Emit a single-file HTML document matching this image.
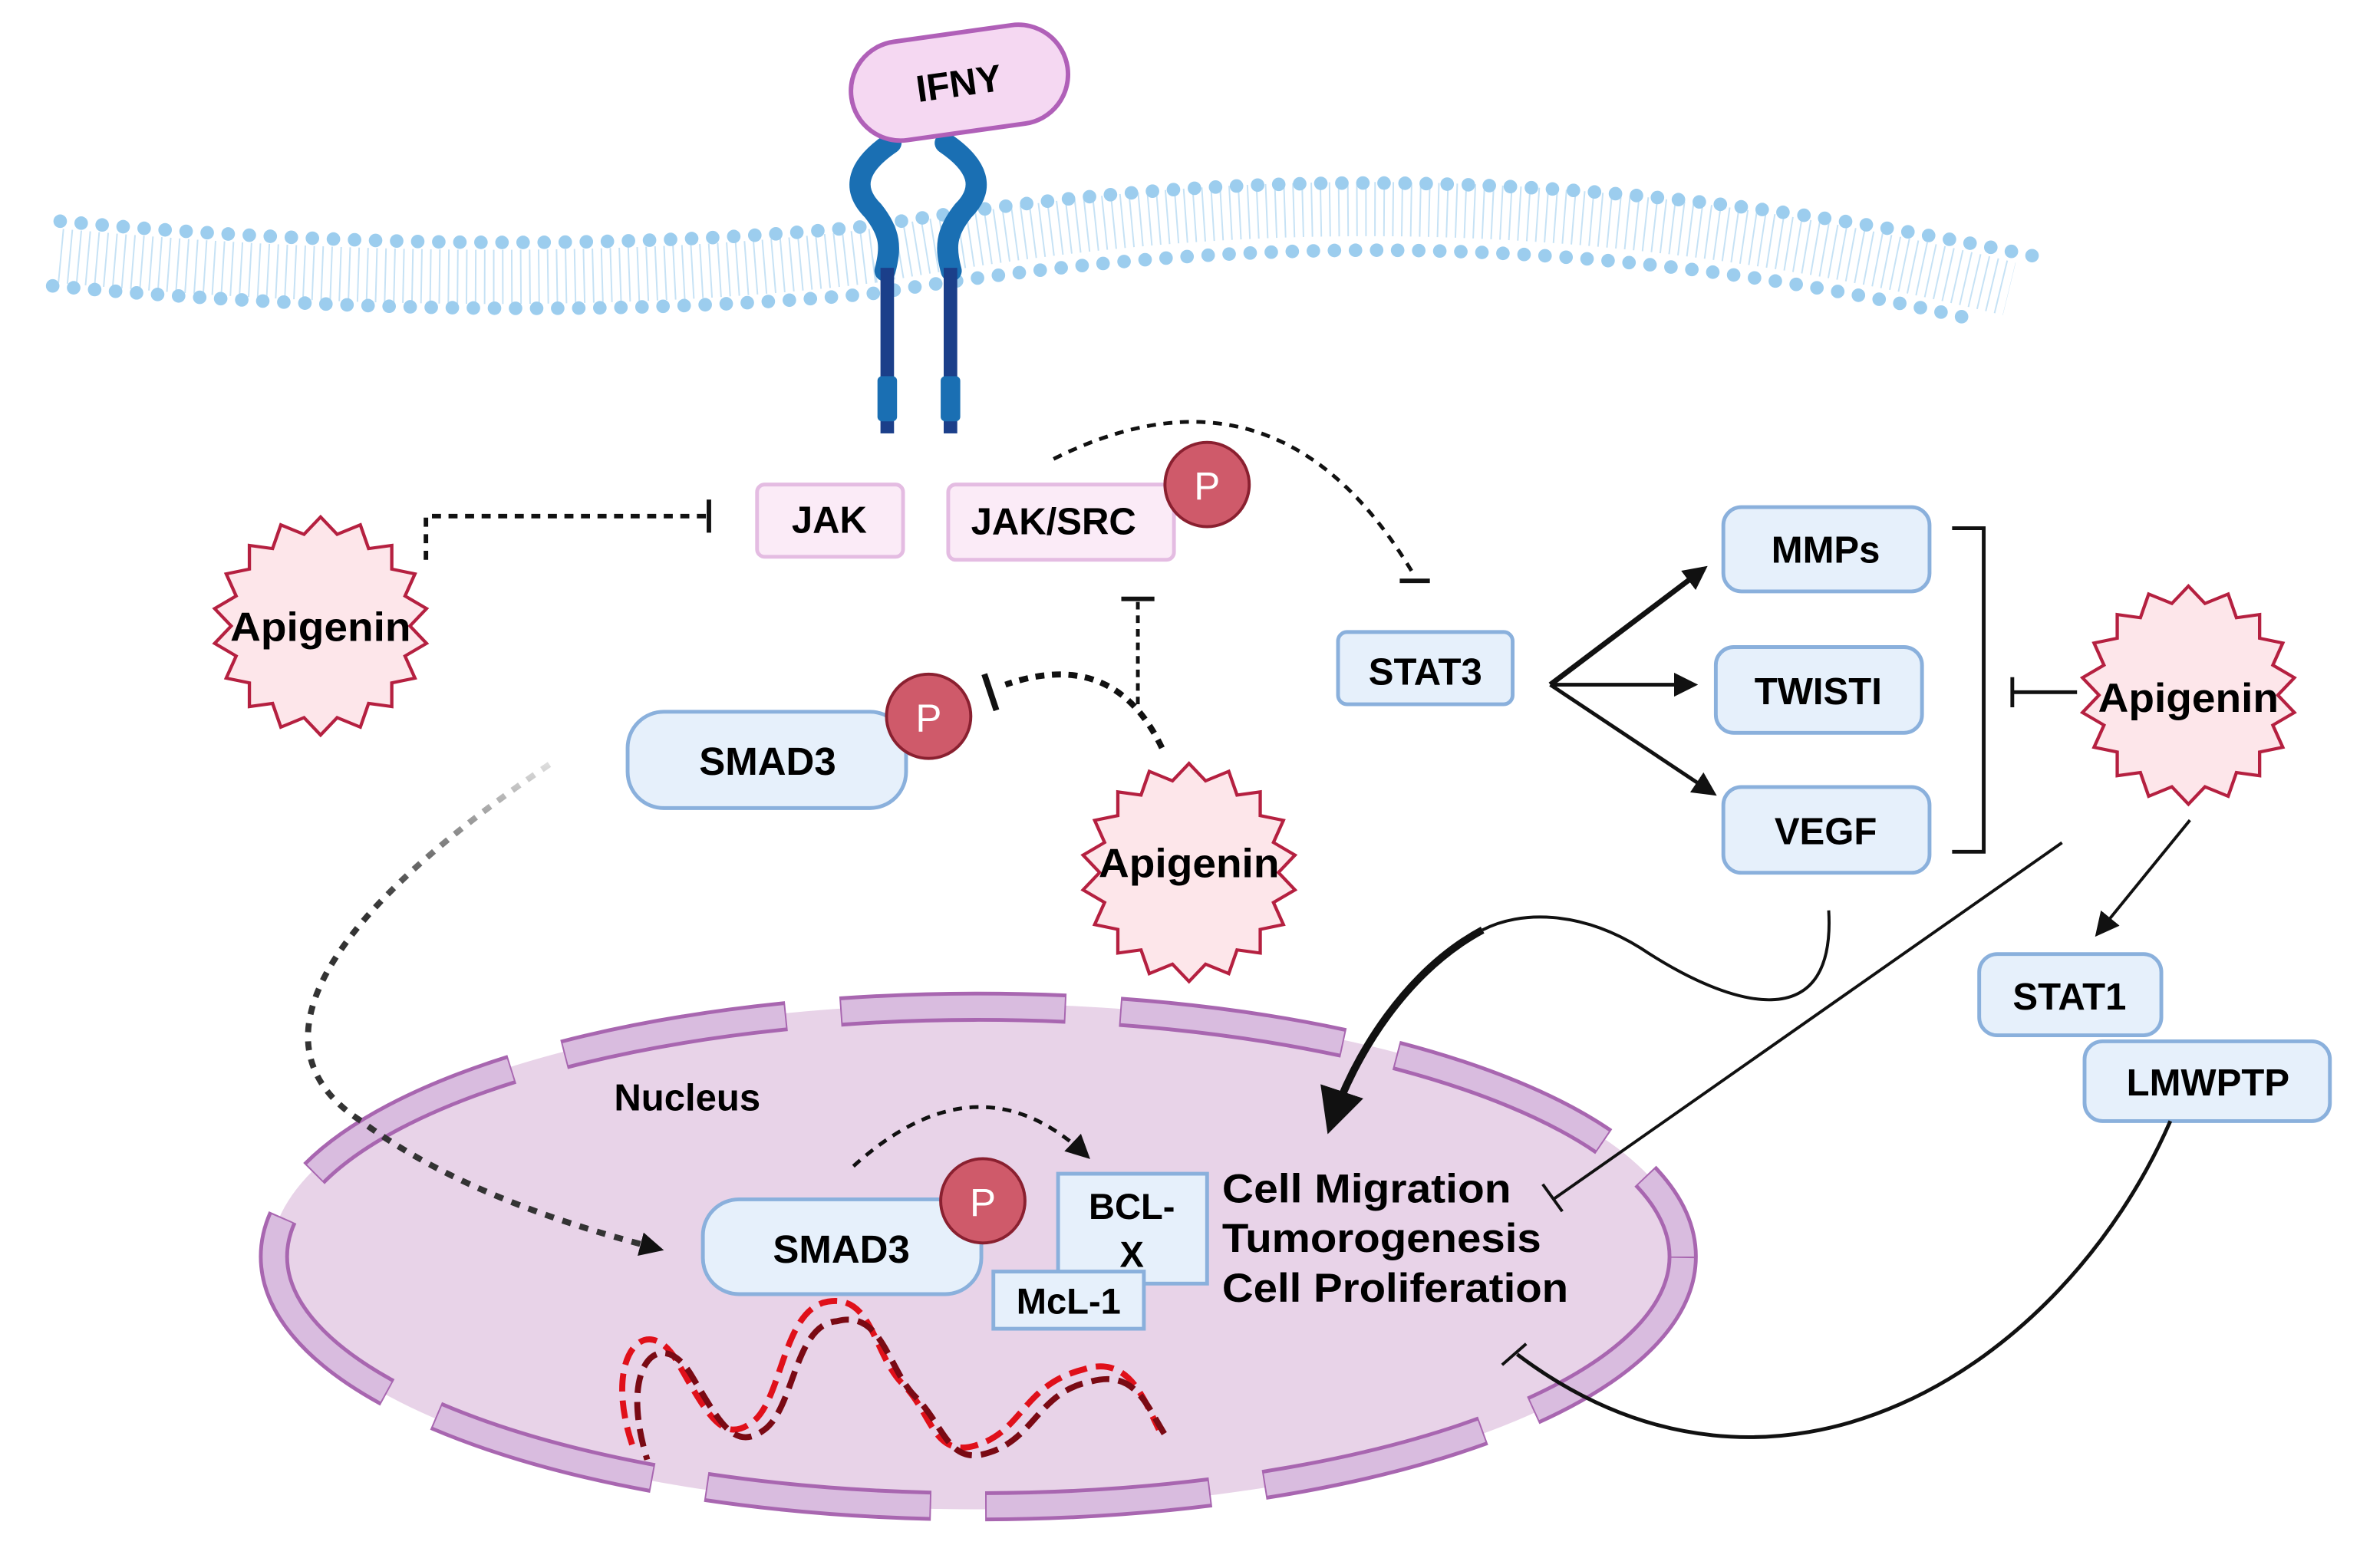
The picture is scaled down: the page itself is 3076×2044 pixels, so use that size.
<!DOCTYPE html>
<html><head><meta charset="utf-8"><style>html,body{margin:0;padding:0;background:#fff}svg{display:block}</style></head><body>
<svg width="3076" height="2044" viewBox="0 0 1568 1042" preserveAspectRatio="none" xmlns="http://www.w3.org/2000/svg" font-family="Liberation Sans, sans-serif" font-weight="bold">
<defs>
<marker id="ah" viewBox="0 0 10 10" refX="8" refY="5" markerWidth="16" markerHeight="16" markerUnits="userSpaceOnUse" orient="auto"><path d="M0,0L10,5L0,10z" fill="#111"/></marker>
<marker id="ahs" viewBox="0 0 10 10" refX="8" refY="5" markerWidth="30" markerHeight="30" markerUnits="userSpaceOnUse" orient="auto"><path d="M0,0L10,5L0,10z" fill="#111"/></marker>
<linearGradient id="gd" x1="0" y1="0" x2="0" y2="1"><stop offset="0" stop-color="#ddd"/><stop offset="0.3" stop-color="#333"/></linearGradient>
</defs>
<!-- membrane -->
<path d="M40,170 C200,185 400,192 580,170 C750,140 1000,110 1335,192" fill="none" stroke="#c6e2f5" stroke-width="36" stroke-dasharray="1 5"/>
<path d="M40,147 C200,162 400,168 580,150 C750,122 1000,95 1360,172" fill="none" stroke="#9ccdee" stroke-width="9" stroke-linecap="round" stroke-dasharray="0 14"/>
<path d="M35,190 C200,205 400,212 580,195 C750,168 1000,140 1310,212" fill="none" stroke="#9ccdee" stroke-width="9" stroke-linecap="round" stroke-dasharray="0 14"/>
<!-- receptor -->
<path d="M592,95 C570,110 565,125 580,140 C592,155 592,165 588,180" fill="none" stroke="#1a6fb3" stroke-width="14" stroke-linecap="round"/>
<path d="M628,95 C650,110 655,125 640,140 C628,155 628,165 632,180" fill="none" stroke="#1a6fb3" stroke-width="14" stroke-linecap="round"/>
<rect x="585" y="178" width="9" height="110" fill="#1b3f8a"/><rect x="627" y="178" width="9" height="110" fill="#1b3f8a"/>
<rect x="583" y="250" width="13" height="30" rx="3" fill="#1a6fb3"/><rect x="625" y="250" width="13" height="30" rx="3" fill="#1a6fb3"/>
<g transform="rotate(-8 637 55)"><rect x="565" y="22" width="145" height="66" rx="33" fill="#f5d8f2" stroke="#b060b8" stroke-width="3"/><text x="637" y="64" font-size="25" text-anchor="middle">IFNY</text></g>
<!-- nucleus -->
<ellipse cx="650" cy="835" rx="470" ry="168" fill="#e8d3e8"/>
<ellipse cx="650" cy="835" rx="468" ry="166" fill="none" stroke="#a866b0" stroke-width="20" stroke-dasharray="150 36"/>
<ellipse cx="650" cy="835" rx="468" ry="166" fill="none" stroke="#d9bcdf" stroke-width="15" stroke-dasharray="148 38" stroke-dashoffset="-1"/>
<text x="408" y="738" font-size="25">Nucleus</text>
<!-- DNA -->
<path d="M420,960 C400,900 430,870 450,905 C470,940 480,960 500,945 C520,930 520,870 550,865 C580,860 580,900 600,920 C620,940 620,970 650,960 C680,950 680,920 720,910 C750,900 760,930 770,950" fill="none" stroke="#e0101a" stroke-width="4" stroke-dasharray="12 6"/>
<path d="M430,970 C410,905 440,880 460,915 C478,945 488,965 508,950 C528,935 528,880 556,878 C586,870 590,910 608,928 C628,948 630,975 658,965 C688,955 690,925 725,918 C755,910 762,935 775,955" fill="none" stroke="#7a0a14" stroke-width="4" stroke-dasharray="12 6" stroke-dashoffset="9"/>
<!-- nucleus items -->
<rect x="703" y="780" width="99" height="73" fill="#e6f0fb" stroke="#8ab0dc" stroke-width="2.5"/>
<text x="752" y="810" font-size="24" text-anchor="middle">BCL-</text><text x="752" y="842" font-size="24" text-anchor="middle">X</text>
<rect x="660" y="845" width="100" height="38" fill="#e6f0fb" stroke="#8ab0dc" stroke-width="2.5"/>
<text x="710" y="873" font-size="24" text-anchor="middle">McL-1</text>
<rect x="467" y="797" width="185" height="63" rx="24" fill="#e6f0fb" stroke="#8ab0dc" stroke-width="2.5"/>
<text x="559" y="839" font-size="26" text-anchor="middle">SMAD3</text>
<circle cx="653" cy="798" r="28" fill="#cf5a6a" stroke="#8a2030" stroke-width="2"/><text x="653" y="808" font-size="26" font-weight="normal" fill="#fff" text-anchor="middle">P</text>
<text x="812" y="799" font-size="27" textLength="192" lengthAdjust="spacingAndGlyphs">Cell Migration</text>
<text x="812" y="832" font-size="27" textLength="212" lengthAdjust="spacingAndGlyphs">Tumorogenesis</text>
<text x="812" y="865" font-size="27" textLength="230" lengthAdjust="spacingAndGlyphs">Cell Proliferation</text>
<!-- top boxes -->
<rect x="503" y="322" width="97" height="48" rx="5" fill="#fbebf7" stroke="#e4bce2" stroke-width="2.5"/><text x="551" y="354" font-size="25" text-anchor="middle">JAK</text>
<rect x="630" y="322" width="150" height="50" rx="5" fill="#fbebf7" stroke="#e4bce2" stroke-width="2.5"/><text x="700" y="355" font-size="25" text-anchor="middle">JAK/SRC</text>
<circle cx="802" cy="322" r="28" fill="#cf5a6a" stroke="#8a2030" stroke-width="2"/><text x="802" y="332" font-size="26" font-weight="normal" fill="#fff" text-anchor="middle">P</text>
<rect x="417" y="473" width="185" height="64" rx="24" fill="#e6f0fb" stroke="#8ab0dc" stroke-width="2.5"/><text x="510" y="515" font-size="26" text-anchor="middle">SMAD3</text>
<circle cx="617" cy="476" r="28" fill="#cf5a6a" stroke="#8a2030" stroke-width="2"/><text x="617" y="486" font-size="26" font-weight="normal" fill="#fff" text-anchor="middle">P</text>
<rect x="889" y="420" width="116" height="48" rx="6" fill="#e6f0fb" stroke="#8ab0dc" stroke-width="2.5"/><text x="947" y="455" font-size="25" text-anchor="middle">STAT3</text>
<rect x="1145" y="337" width="137" height="56" rx="12" fill="#e6f0fb" stroke="#8ab0dc" stroke-width="2.5"/><text x="1213" y="374" font-size="25" text-anchor="middle">MMPs</text>
<rect x="1140" y="430" width="137" height="57" rx="12" fill="#e6f0fb" stroke="#8ab0dc" stroke-width="2.5"/><text x="1208" y="468" font-size="25" text-anchor="middle">TWISTI</text>
<rect x="1145" y="523" width="137" height="57" rx="12" fill="#e6f0fb" stroke="#8ab0dc" stroke-width="2.5"/><text x="1213" y="561" font-size="25" text-anchor="middle">VEGF</text>
<rect x="1315" y="634" width="121" height="54" rx="12" fill="#e6f0fb" stroke="#8ab0dc" stroke-width="2.5"/><text x="1375" y="671" font-size="25" text-anchor="middle">STAT1</text>
<rect x="1385" y="692" width="163" height="53" rx="12" fill="#e6f0fb" stroke="#8ab0dc" stroke-width="2.5"/><text x="1467" y="728" font-size="25" text-anchor="middle">LMWPTP</text>
<!-- apigenin stars -->
<g fill="#fde6ea" stroke="#b52040" stroke-width="2">
<g transform="translate(213,416) scale(1.1,1.05) translate(-213,-415)"><polygon points="213,346 223,357 237,351 242,366 256,364 256,379 270,382 264,396 277,404 267,415 277,426 264,434 270,448 256,451 256,466 242,464 237,479 223,473 213,484 203,473 189,479 184,464 170,466 170,451 156,448 162,434 149,426 159,415 149,404 162,396 156,382 170,379 170,364 184,366 189,351 203,357"/></g>
<g transform="translate(577,0) translate(213,416) scale(1.1,1.05) translate(-213,-416) translate(0,157)"><polygon points="213,346 223,357 237,351 242,366 256,364 256,379 270,382 264,396 277,404 267,415 277,426 264,434 270,448 256,451 256,466 242,464 237,479 223,473 213,484 203,473 189,479 184,464 170,466 170,451 156,448 162,434 149,426 159,415 149,404 162,396 156,382 170,379 170,364 184,366 189,351 203,357"/></g>
<g transform="translate(1241,47) translate(213,416) scale(1.1,1.05) translate(-213,-416)"><polygon points="213,346 223,357 237,351 242,366 256,364 256,379 270,382 264,396 277,404 267,415 277,426 264,434 270,448 256,451 256,466 242,464 237,479 223,473 213,484 203,473 189,479 184,464 170,466 170,451 156,448 162,434 149,426 159,415 149,404 162,396 156,382 170,379 170,364 184,366 189,351 203,357"/></g>
</g>
<text x="213" y="426" font-size="27" text-anchor="middle" textLength="120" lengthAdjust="spacingAndGlyphs">Apigenin</text>
<text x="790" y="583" font-size="27" text-anchor="middle" textLength="120" lengthAdjust="spacingAndGlyphs">Apigenin</text>
<text x="1454" y="473" font-size="27" text-anchor="middle" textLength="120" lengthAdjust="spacingAndGlyphs">Apigenin</text>
<!-- connectors -->
<g fill="none" stroke="#111" stroke-width="3">
<path d="M283,372 L283,343 L470,343" stroke-dasharray="6 5"/><path d="M471,332 V354"/>
<path d="M700,305 Q850,230 940,383" stroke-width="2.5" stroke-dasharray="6 5"/><path d="M930,386 H950"/>
<path d="M756,400 V472" stroke-width="2.5" stroke-dasharray="5 4"/><path d="M745,398 H767"/>
<path d="M772,497 Q740,430 668,455" stroke-width="4" stroke-dasharray="6 5"/><path d="M654,448 L662,472" stroke-width="4"/>
<path d="M365,508 C200,620 170,700 240,745 C300,790 380,815 438,830" stroke="url(#gd)" stroke-width="4" stroke-dasharray="6 6" marker-end="url(#ah)"/>
<path d="M567,775 Q650,700 722,768" stroke-width="2.5" stroke-dasharray="6 5" marker-end="url(#ah)"/>
<path d="M1030,455 L1132,378" stroke-width="3.5" marker-end="url(#ah)"/>
<path d="M1030,455 L1125,455" stroke-width="2.5" marker-end="url(#ah)"/>
<path d="M1030,455 L1138,527" stroke-width="2.5" marker-end="url(#ah)"/>
<path d="M1297,351 H1318 V566 H1297" stroke-width="2.5"/>
<path d="M1380,460 H1337 M1337,450 V470" stroke-width="2.5"/>
<path d="M1215,605 C1220,690 1150,670 1090,630 C1050,605 1010,605 985,618" stroke-width="2"/>
<path d="M985,618 C935,645 900,700 884,748" stroke-width="5" marker-end="url(#ahs)"/>
<path d="M1370,560 L1032,797" stroke-width="2"/><path d="M1025,787 L1038,805" stroke-width="2"/>
<path d="M1455,545 L1394,620" stroke-width="2" marker-end="url(#ah)"/>
<path d="M1442,745 C1370,910 1180,1030 1008,900" stroke-width="2.5"/><path d="M998,907 L1014,893" stroke-width="2"/>
</g>
</svg>
</body></html>
